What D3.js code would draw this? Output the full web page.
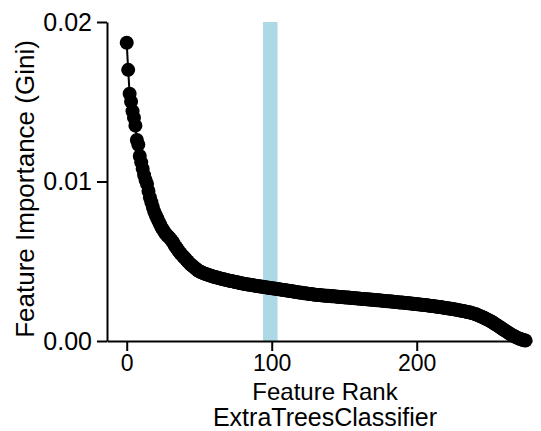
<!DOCTYPE html>
<html>
<head>
<meta charset="utf-8">
<script src="https://cdn.jsdelivr.net/npm/d3@7"></script>
<style>
  body { margin: 0; background: #fff; }
  text { font-family: "Liberation Sans", Arial, sans-serif; fill: #000; }
</style>
</head>
<body>
<div id="chart"></div>
<script>
// feature importances (Gini), sorted, rank 0..275
const importance = [
  0.01870, 0.01700, 0.01550, 0.01500, 0.01440, 0.01400, 0.01350, 0.01260, 0.01230, 0.01160,
  0.01120, 0.01080, 0.01040, 0.01010, 0.00985, 0.00940, 0.00900, 0.00870, 0.00840, 0.00810,
  0.00790, 0.00770, 0.00750, 0.00730, 0.00712, 0.00698, 0.00684, 0.00670, 0.00660, 0.00652,
  0.00642, 0.00630, 0.00618, 0.00600, 0.00588, 0.00575, 0.00562, 0.00550, 0.00540, 0.00530,
  0.00520, 0.00510, 0.00500, 0.00490, 0.00481, 0.00473, 0.00466, 0.00458, 0.00451, 0.00444,
  0.00437, 0.00433, 0.00429, 0.00425, 0.00421, 0.00418, 0.00415, 0.00412, 0.00409, 0.00406,
  0.00403, 0.00401, 0.00398, 0.00396, 0.00393, 0.00391, 0.00389, 0.00387, 0.00384, 0.00382,
  0.00380, 0.00378, 0.00376, 0.00374, 0.00372, 0.00370, 0.00368, 0.00366, 0.00364, 0.00362,
  0.00360, 0.00358, 0.00357, 0.00355, 0.00354, 0.00352, 0.00351, 0.00349, 0.00348, 0.00346,
  0.00345, 0.00343, 0.00342, 0.00341, 0.00339, 0.00338, 0.00336, 0.00335, 0.00334, 0.00332,
  0.00331, 0.00330, 0.00328, 0.00327, 0.00326, 0.00324, 0.00323, 0.00322, 0.00320, 0.00319,
  0.00317, 0.00316, 0.00314, 0.00313, 0.00312, 0.00310, 0.00309, 0.00307, 0.00306, 0.00304,
  0.00303, 0.00302, 0.00300, 0.00299, 0.00298, 0.00297, 0.00295, 0.00294, 0.00293, 0.00292,
  0.00290, 0.00289, 0.00289, 0.00288, 0.00287, 0.00286, 0.00285, 0.00284, 0.00284, 0.00283,
  0.00282, 0.00281, 0.00280, 0.00280, 0.00279, 0.00278, 0.00277, 0.00276, 0.00276, 0.00275,
  0.00274, 0.00273, 0.00272, 0.00272, 0.00271, 0.00270, 0.00269, 0.00268, 0.00268, 0.00267,
  0.00266, 0.00265, 0.00264, 0.00264, 0.00263, 0.00262, 0.00261, 0.00260, 0.00260, 0.00259,
  0.00258, 0.00257, 0.00256, 0.00255, 0.00255, 0.00254, 0.00253, 0.00252, 0.00251, 0.00250,
  0.00250, 0.00249, 0.00248, 0.00247, 0.00246, 0.00245, 0.00244, 0.00243, 0.00242, 0.00241,
  0.00241, 0.00240, 0.00239, 0.00238, 0.00237, 0.00236, 0.00235, 0.00234, 0.00233, 0.00232,
  0.00231, 0.00230, 0.00229, 0.00228, 0.00227, 0.00226, 0.00225, 0.00224, 0.00222, 0.00221,
  0.00220, 0.00219, 0.00218, 0.00217, 0.00215, 0.00214, 0.00213, 0.00211, 0.00210, 0.00208,
  0.00207, 0.00206, 0.00204, 0.00203, 0.00201, 0.00200, 0.00198, 0.00197, 0.00195, 0.00193,
  0.00192, 0.00190, 0.00188, 0.00186, 0.00184, 0.00182, 0.00180, 0.00178, 0.00175, 0.00173,
  0.00170, 0.00167, 0.00163, 0.00159, 0.00155, 0.00151, 0.00147, 0.00143, 0.00138, 0.00134,
  0.00129, 0.00124, 0.00119, 0.00113, 0.00107, 0.00101, 0.00095, 0.00089, 0.00083, 0.00077,
  0.00071, 0.00065, 0.00059, 0.00053, 0.00047, 0.00041, 0.00036, 0.00031, 0.00026, 0.00022,
  0.00018, 0.00014, 0.00011, 0.00008, 0.00005, 0.00003
]
const highlightSpan = [94, 104]
const xTicks = [0, 100, 200]
const yTicks = [0, 0.01, 0.02]
const xLabel = "Feature Rank"
const modelName = "ExtraTreesClassifier"
const yLabel = "Feature Importance (Gini)"

const width = 541, height = 431
const margin = { top: 22, right: 9, bottom: 90, left: 107 }

const svg = d3.select('#chart').append('svg')
  .attr('width', width)
  .attr('height', height)

const x = d3.scaleLinear()
  .domain([-13.6, 279.5])
  .range([margin.left, width - margin.right])
const y = d3.scaleLinear()
  .domain([0, 0.02])
  .range([height - margin.bottom, margin.top])

const data = importance.map((v, i) => ({ rank: i, value: v }))

// highlighted rank band
svg.append('rect')
  .attr('x', x(highlightSpan[0]))
  .attr('width', x(highlightSpan[1]) - x(highlightSpan[0]))
  .attr('y', y(0.02))
  .attr('height', y(0) - y(0.02))
  .attr('fill', '#add8e6')

// connecting line + markers
svg.append('path')
  .datum(data)
  .attr('fill', 'none')
  .attr('stroke', '#000')
  .attr('stroke-width', 2)
  .attr('d', d3.line().x(d => x(d.rank)).y(d => y(d.value)))

svg.append('g')
  .selectAll('circle')
  .data(data)
  .join('circle')
  .attr('cx', d => x(d.rank))
  .attr('cy', d => y(d.value))
  .attr('r', 7)
  .attr('fill', '#000')

// axes
svg.append('g')
  .attr('class', 'x-axis')
  .attr('transform', `translate(0, ${y(0)})`)
  .call(d3.axisBottom(x).tickValues(xTicks).tickFormat(d3.format('d')).tickSize(10).tickPadding(4).tickSizeOuter(0))
svg.append('g')
  .attr('class', 'y-axis')
  .attr('transform', `translate(${margin.left}, 0)`)
  .call(d3.axisLeft(y).tickValues(yTicks).tickFormat(d3.format('.2f')).tickSize(10).tickPadding(5).tickSizeOuter(0))

svg.selectAll('.domain, .tick line')
  .attr('stroke', '#000')
  .attr('stroke-width', 2)
svg.selectAll('.tick text')
  .style('font-family', '"Liberation Sans", Arial, sans-serif')
  .attr('fill', '#000')
svg.selectAll('.x-axis .tick text').style('font-size', '23px')
svg.selectAll('.y-axis .tick text').style('font-size', '25px')

// axis titles
svg.append('text')
  .attr('x', 325)
  .attr('y', 400)
  .attr('text-anchor', 'middle')
  .style('font-size', '24px')
  .text(xLabel)
svg.append('text')
  .attr('x', 325)
  .attr('y', 426)
  .attr('text-anchor', 'middle')
  .style('font-size', '25px')
  .text(modelName)
svg.append('text')
  .attr('transform', 'translate(34, 189) rotate(-90)')
  .attr('text-anchor', 'middle')
  .style('font-size', '26px')
  .text(yLabel)
</script>
</body>
</html>
